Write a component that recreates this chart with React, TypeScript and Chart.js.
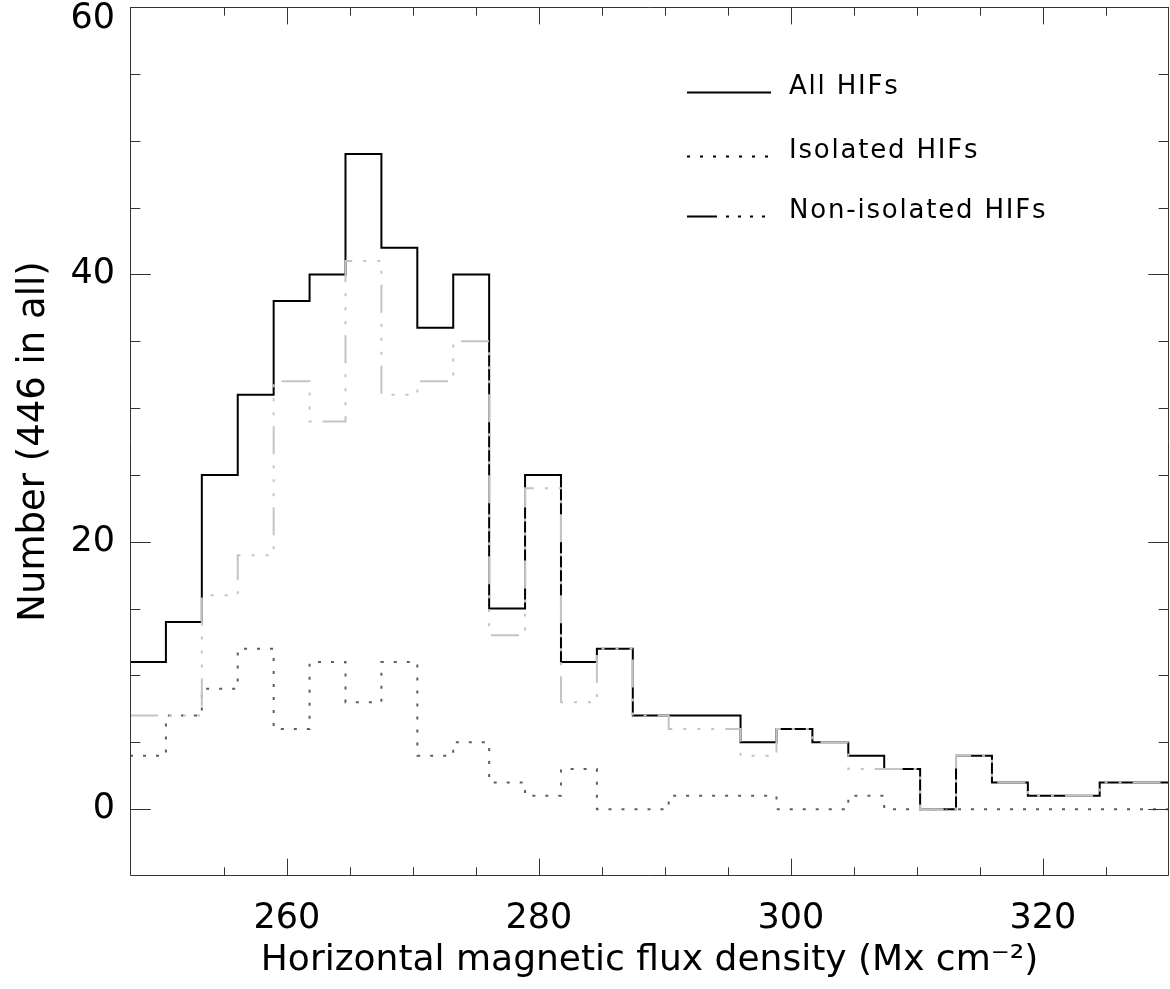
import React, { useEffect, useRef } from 'react';
import { Chart, registerables } from 'chart.js';

Chart.register(...registerables);

// Histogram bin edges (Mx cm^-2) — 29 bins
const binEdges = [
  247.55, 250.4, 253.25, 256.1, 258.95, 261.8, 264.65, 267.5, 270.35, 273.2,
  276.05, 278.9, 281.75, 284.6, 287.45, 290.3, 293.15, 296.0, 298.85, 301.7,
  304.55, 307.4, 310.25, 313.1, 315.95, 318.8, 321.65, 324.5, 327.35, 330.2,
];

const allHIFs = [11, 14, 25, 31, 38, 40, 49, 42, 36, 40, 15, 25, 11, 12, 7, 7, 7, 5, 6, 5, 4, 3, 0, 4, 2, 1, 1, 2, 2];
const isolatedHIFs = [4, 7, 9, 12, 6, 11, 8, 11, 4, 5, 2, 1, 3, 0, 0, 1, 1, 1, 0, 0, 1, 0, 0, 0, 0, 0, 0, 0, 0];
const nonIsolatedHIFs = [7, 7, 16, 19, 32, 29, 41, 31, 32, 35, 13, 24, 8, 12, 7, 6, 6, 4, 6, 5, 3, 3, 0, 4, 2, 1, 1, 2, 2];

const seriesNames = ['All HIFs', 'Isolated HIFs', 'Non-isolated HIFs'];
const xTickLabels = [260, 280, 300, 320];
const yTickLabels = [0, 20, 40, 60];
const xRange = [247.55, 330];
const yRange = [-5, 60];
const xTitle = 'Horizontal magnetic flux density (Mx cm\u207B\u00B2)';
const yTitle = 'Number (446 in all)';

const FONT = "'DejaVu Sans', sans-serif";

function stepPoints(values: number[]) {
  return binEdges.map((x, i) => ({ x, y: values[Math.min(i, values.length - 1)] }));
}

const NONISO_DASH = [28, 11, 3, 11, 3, 11, 3, 11];
const ISO_DASH = [3, 10];

const idlAxesPlugin = {
  id: 'idlAxes',
  afterDraw(chart: any) {
    const { ctx, chartArea, scales } = chart;
    const { left, right, top, bottom } = chartArea;
    const xs = scales.x;
    const ys = scales.y;
    ctx.save();
    ctx.strokeStyle = '#333';
    ctx.lineWidth = 1;
    ctx.setLineDash([]);
    // box
    ctx.beginPath();
    ctx.moveTo(left + 0.5, top + 0.5);
    ctx.lineTo(right - 0.5, top + 0.5);
    ctx.lineTo(right - 0.5, bottom - 0.5);
    ctx.lineTo(left + 0.5, bottom - 0.5);
    ctx.closePath();
    ctx.stroke();

    const plotH = bottom - top;
    const plotW = right - left;
    const xMajor = 0.02 * plotH;
    const yMajor = 0.02 * plotW;

    ctx.beginPath();
    for (const t of xs.ticks) {
      const v = t.value;
      if (Math.abs(v / 5 - Math.round(v / 5)) > 1e-6) continue;
      const px = Math.round(xs.getPixelForValue(v)) + 0.5;
      if (px < left || px > right) continue;
      const len = Math.abs(v % 20) < 1e-6 ? xMajor : xMajor / 2;
      ctx.moveTo(px, bottom);
      ctx.lineTo(px, bottom - len);
      ctx.moveTo(px, top);
      ctx.lineTo(px, top + len);
    }
    for (const t of ys.ticks) {
      const v = t.value;
      if (Math.abs(v / 5 - Math.round(v / 5)) > 1e-6) continue;
      const py = Math.round(ys.getPixelForValue(v)) + 0.5;
      if (py < top || py > bottom) continue;
      const len = Math.abs(v % 20) < 1e-6 ? yMajor : yMajor / 2;
      ctx.moveTo(left, py);
      ctx.lineTo(left + len, py);
      ctx.moveTo(right, py);
      ctx.lineTo(right - len, py);
    }
    ctx.stroke();

    // y tick labels
    ctx.fillStyle = '#000';
    ctx.font = `35px ${FONT}`;
    ctx.textAlign = 'right';
    ctx.textBaseline = 'middle';
    for (const v of yTickLabels) {
      let py = ys.getPixelForValue(v);
      py = Math.max(py, 19);
      ctx.fillText(String(v), left - 15, py);
    }

    // legend
    const lx0 = 687;
    const lx1 = 771;
    const tx = 789;
    const rows = [92.5, 156.5, 216.5];
    const dashes = [[], [3, 10], [30, 9, 3, 9, 3, 9, 3, 9, 3, 20]];
    ctx.strokeStyle = '#000';
    ctx.lineWidth = 2;
    seriesNames.forEach((name, i) => {
      ctx.setLineDash(dashes[i]);
      ctx.beginPath();
      ctx.moveTo(lx0, rows[i]);
      ctx.lineTo(lx1, rows[i]);
      ctx.stroke();
    });
    ctx.setLineDash([]);
    ctx.font = `26px ${FONT}`;
    (ctx as any).letterSpacing = '1.8px';
    ctx.textAlign = 'left';
    ctx.textBaseline = 'alphabetic';
    seriesNames.forEach((name, i) => {
      ctx.fillText(name, tx, rows[i] + 1);
    });
    ctx.restore();
  },
};

export default function App() {
  const canvasRef = useRef<HTMLCanvasElement | null>(null);

  useEffect(() => {
    if (!canvasRef.current) return;
    const chart = new Chart(canvasRef.current, {
      type: 'line',
      data: {
        datasets: [
          {
            label: seriesNames[2],
            data: stepPoints(nonIsolatedHIFs),
            stepped: true,
            borderColor: '#c4c4c4',
            borderWidth: 2,
            borderDash: NONISO_DASH,
            pointRadius: 0,
            fill: false,
          },
          {
            label: seriesNames[1],
            data: stepPoints(isolatedHIFs),
            stepped: true,
            borderColor: '#5e5e5e',
            borderWidth: 2,
            borderDash: ISO_DASH,
            pointRadius: 0,
            fill: false,
          },
          {
            label: seriesNames[0],
            data: stepPoints(allHIFs),
            stepped: true,
            borderColor: '#000',
            borderWidth: 2,
            pointRadius: 0,
            fill: false,
          },
        ],
      },
      options: {
        animation: false,
        responsive: false,
        events: [],
        layout: { padding: { top: 7, right: 1, left: 0, bottom: 0 } },
        plugins: {
          legend: { display: false },
          tooltip: { enabled: false },
        },
        scales: {
          x: {
            type: 'linear',
            min: xRange[0],
            max: xRange[1],
            grid: { display: false },
            border: { display: false },
            ticks: {
              stepSize: 5,
              autoSkip: false,
              maxRotation: 0,
              padding: 14,
              color: '#000',
              font: { family: FONT, size: 35 },
              callback: (v: any) => (xTickLabels.includes(Number(v)) ? String(v) : ''),
            },
            title: {
              display: true,
              text: xTitle,
              color: '#000',
              font: { family: FONT, size: 36 },
              padding: { top: 0, bottom: 7 },
            },
            afterFit: (s: any) => {
              s.height = 113;
              s.paddingLeft = 0;
              s.paddingRight = 0;
            },
          },
          y: {
            type: 'linear',
            min: yRange[0],
            max: yRange[1],
            grid: { display: false },
            border: { display: false },
            ticks: {
              stepSize: 5,
              display: false,
            },
            title: {
              display: true,
              text: yTitle,
              color: '#000',
              font: { family: FONT, size: 37 },
              padding: { top: 12, bottom: 0 },
            },
            afterFit: (s: any) => {
              s.width = 130;
              s.paddingTop = 0;
              s.paddingBottom = 0;
            },
          },
        },
      },
      plugins: [idlAxesPlugin],
    });
    return () => chart.destroy();
  }, []);

  return (
    <div style={{ position: 'absolute', left: 0, top: 0, width: 1170, height: 989, background: '#fff' }}>
      <canvas ref={canvasRef} width={1170} height={989} style={{ display: 'block' }} />
    </div>
  );
}
